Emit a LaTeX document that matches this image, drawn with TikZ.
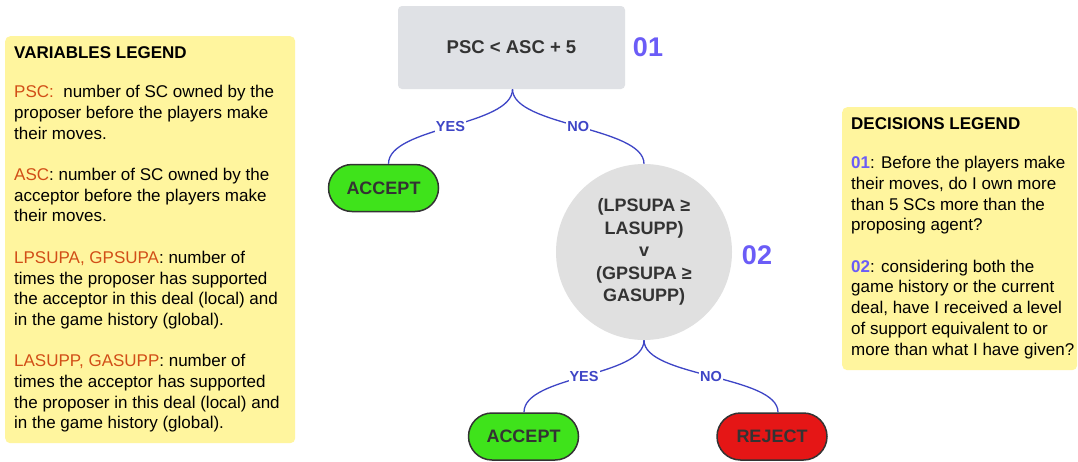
\documentclass[tikz,border=0pt]{standalone}
\usepackage{fontspec}
\setmainfont{Liberation Sans}
\usetikzlibrary{calc}
\definecolor{legendfill}{HTML}{FFF59E}
\definecolor{qgray}{HTML}{DFE1E5}
\definecolor{cgray}{HTML}{E0E0E0}
\definecolor{okgreen}{HTML}{3FE31B}
\definecolor{nored}{HTML}{E51616}
\definecolor{linkblue}{HTML}{3E45C6}
\definecolor{numblue}{HTML}{6B5CF7}
\definecolor{varorange}{HTML}{D14E17}
\definecolor{inktext}{HTML}{333333}
\definecolor{pillborder}{HTML}{333333}
\tikzset{
  legendbox/.style={fill=legendfill, rounded corners=5pt, inner sep=0pt, anchor=north west},
  legendtext/.style={anchor=north west, inner sep=0pt, align=left, text=black,
    font=\fontsize{17}{20.7}\selectfont},
  qbox/.style={fill=qgray, rounded corners=4pt, minimum width=227pt, minimum height=83pt,
    inner sep=0pt, text=inktext, font=\bfseries\fontsize{18.5}{22}\selectfont},
  qcircle/.style={circle, fill=cgray, minimum size=176pt, inner sep=0pt, align=center,
    text=inktext, font=\bfseries\fontsize{18}{22.5}\selectfont},
  pill/.style={draw=pillborder, line width=1.5pt, rounded corners=23.5pt,
    minimum width=110pt, minimum height=47pt, inner sep=0pt, text=inktext,
    font=\bfseries\fontsize{18}{22}\selectfont},
  accept/.style={pill, fill=okgreen},
  reject/.style={pill, fill=nored},
  qnum/.style={text=numblue, font=\bfseries\fontsize{27}{30}\selectfont},
  branch/.style={draw=linkblue, line width=1.3pt},
  blabel/.style={fill=white, inner sep=1pt, text=linkblue,
    font=\bfseries\fontsize{14.5}{16}\selectfont},
}
\newcommand{\term}[1]{\textcolor{varorange}{#1}}
\newcommand{\qref}[1]{\textcolor{numblue}{\bfseries #1}}
\begin{document}
\begin{tikzpicture}[x=1pt, y=-1pt]
\useasboundingbox (0,0) rectangle (1078,461);
\fill[white] (0,0) rectangle (1078,461);

% variables legend
\node[legendbox, minimum width=290pt, minimum height=407pt] (varbox) at (5,36) {};
\node[legendtext] (vartext) at (14,46) {%
  \textbf{VARIABLES LEGEND}\\[19pt]
  \term{PSC:}\ \ number of SC owned by the\\
  proposer before the players make\\
  their moves.\\[20.7pt]
  \term{ASC}: number of SC owned by the\\
  acceptor before the players make\\
  their moves.\\[20.7pt]
  \term{LPSUPA, GPSUPA}: number of\\
  times the proposer has supported\\
  the acceptor in this deal (local) and\\
  in the game history (global).\\[20.7pt]
  \term{LASUPP, GASUPP}: number of\\
  times the acceptor has supported\\
  the proposer in this deal (local) and\\
  in the game history (global).};

% decisions legend
\node[legendbox, minimum width=235pt, minimum height=263pt] (decbox) at (842,107) {};
\node[legendtext] (dectext) at (851,117) {%
  \textbf{DECISIONS LEGEND}\\[19pt]
  \qref{01}: Before the players make\\
  their moves, do I own more\\
  than 5 SCs more than the\\
  proposing agent?\\[20.7pt]
  \qref{02}: considering both the\\
  game history or the current\\
  deal, have I received a level\\
  of support equivalent to or\\
  more than what I have given?};

% decision nodes
\node[qbox] (q1) at (511.5,47.5) {PSC < ASC + 5};
\node[qnum] (n1) at (648,47) {01};
\node[qcircle] (q2) at (644,252) {(LPSUPA ≥\\LASUPP)\\v\\(GPSUPA ≥\\GASUPP)};
\node[qnum] (n2) at (757,255) {02};

% outcomes
\node[accept] (acc1) at (383.5,188) {ACCEPT};
\node[accept] (acc2) at (523.5,436.5) {ACCEPT};
\node[reject] (rej) at (772,436.5) {REJECT};

% branches
\draw[branch] ($(q1.south)+(1,0)$) .. controls +(0,37) and +(0,-37) .. ($(acc1.north)+(5,0)$)
  node[blabel, pos=0.5] {YES};
\draw[branch] ($(q1.south)+(1,0)$) .. controls +(0,37) and +(0,-37) .. (q2.north)
  node[blabel, pos=0.5] {NO};
\draw[branch] (q2.south) .. controls +(0,37) and +(0,-37) .. ($(acc2.north)+(0.5,0)$)
  node[blabel, pos=0.5] {YES};
\draw[branch] (q2.south) .. controls +(0,37) and +(0,-37) .. ($(rej.north)+(6,0)$)
  node[blabel, pos=0.5] {NO};
\end{tikzpicture}
\end{document}
